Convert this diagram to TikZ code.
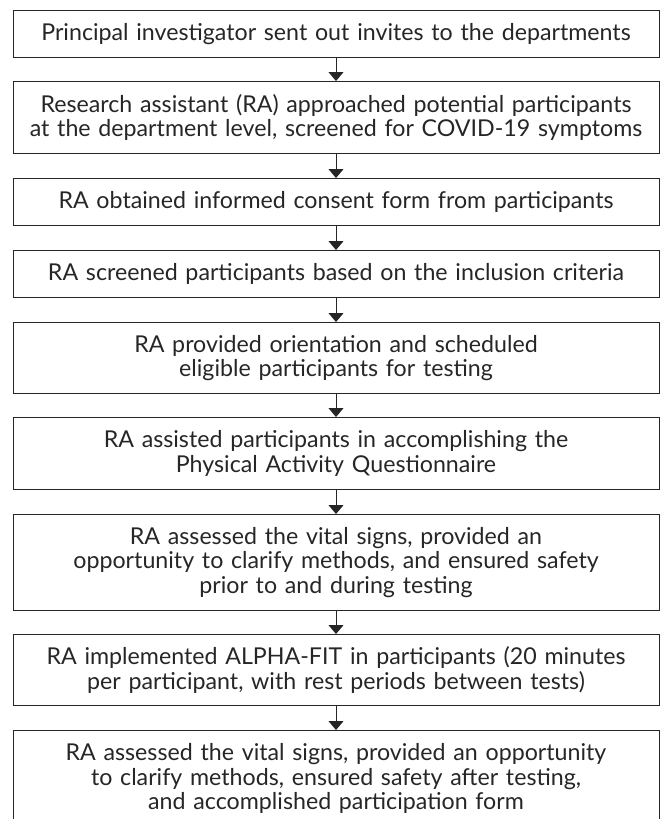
\documentclass[tikz,border=0pt]{standalone}
\usepackage{fontspec}
\setmainfont{Lato}
\usetikzlibrary{arrows.meta}
\begin{document}
\begin{tikzpicture}[x=1pt,y=1pt,
  stepbox/.style={draw=black!85, line width=1pt, rectangle, anchor=north,
    text width=632pt, inner xsep=7pt, inner ysep=0pt, align=center,
    font=\fontsize{23.2}{24.5}\selectfont, text=black!85},
  flow/.style={draw=black!85, line width=1pt, -{Triangle[width=15pt,length=9pt]}}]
\clip (0,0) rectangle (660,-819);
\node[stepbox, minimum height=47pt] (b1) at (336,-10) {Principal investigator sent out invites to the departments};
\node[stepbox, minimum height=72pt] (b2) at (336,-81) {Research assistant (RA) approached potential participants\\at the department level, screened for COVID-19 symptoms};
\node[stepbox, minimum height=47pt] (b3) at (336,-178) {RA obtained informed consent form from participants};
\node[stepbox, minimum height=47pt] (b4) at (336,-250) {RA screened participants based on the inclusion criteria};
\node[stepbox, minimum height=71pt] (b5) at (336,-322) {RA provided orientation and scheduled\\eligible participants for testing};
\node[stepbox, minimum height=72pt] (b6) at (336,-417) {RA assisted participants in accomplishing the\\Physical Activity Questionnaire};
\node[stepbox, minimum height=96pt] (b7) at (336,-514) {RA assessed the vital signs, provided an\\opportunity to clarify methods, and ensured safety\\prior to and during testing};
\node[stepbox, minimum height=71pt] (b8) at (336,-634) {RA implemented ALPHA-FIT in participants (20 minutes\\per participant, with rest periods between tests)};
\node[stepbox, minimum height=96pt] (b9) at (336,-730) {RA assessed the vital signs, provided an opportunity\\to clarify methods, ensured safety after testing,\\and accomplished participation form};
\foreach \a/\b in {b1/b2,b2/b3,b3/b4,b4/b5,b5/b6,b6/b7,b7/b8,b8/b9}
  \draw[flow] (\a.south) -- (\b.north);
\end{tikzpicture}
\end{document}
